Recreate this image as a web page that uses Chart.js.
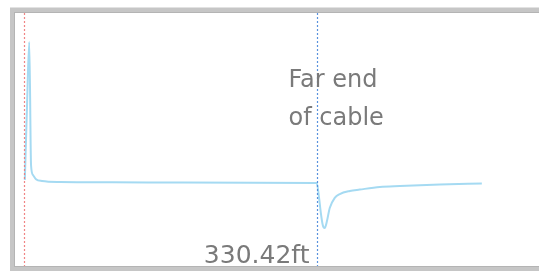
<!DOCTYPE html>
<html>
<head>
<meta charset="utf-8">
<script src="https://cdn.jsdelivr.net/npm/chart.js@4"></script>
<style>
  html, body { margin: 0; padding: 0; background: #fff; }
  #wrap { position: relative; width: 539px; height: 273px; }
</style>
</head>
<body>
<div id="wrap"><canvas id="c" width="539" height="273"></canvas></div>
<script>
// ---- data ----
const distanceFt = [1.5, 4, 6.5, 8.5, 10.7, 14.1, 20.8, 41.1, 100, 180, 260, 330.42, 332.7, 334.9, 337.2, 339.4, 341.7, 345.1, 350.7, 356.4, 367.7, 378.9, 401.6, 424.1, 469.2, 516.5];
const reflection = [0.014, 0.55, 1.0, 0.12, 0.05, 0.02, 0.007, 0.0, -0.002, -0.004, -0.005, -0.007, -0.093, -0.214, -0.307, -0.329, -0.286, -0.186, -0.114, -0.086, -0.064, -0.054, -0.036, -0.029, -0.018, -0.011];
const startFt = 0;
const farEndFt = 330.42;
const farEndLabel = "330.42ft";
const annotationLines = ["Far end", "of cable"];

const points = distanceFt.map((d, i) => ({ x: d, y: reflection[i] }));

const framePlugin = {
  id: 'frame',
  beforeDraw(chart) {
    const ctx = chart.ctx;
    ctx.save();
    ctx.fillStyle = '#ffffff';
    ctx.fillRect(0, 0, chart.width, chart.height);
    ctx.strokeStyle = '#c6c6c6';
    ctx.lineWidth = 5;
    ctx.strokeRect(12.5, 10, 600, 258.5);
    ctx.strokeStyle = '#b4b4b4';
    ctx.lineWidth = 1;
    ctx.strokeRect(14.5, 12.5, 600, 254);
    ctx.restore();
  }
};

const markerPlugin = {
  id: 'markers',
  afterDatasetsDraw(chart) {
    const ctx = chart.ctx;
    const xs = chart.scales.x;
    const area = chart.chartArea;
    const x0 = Math.round(xs.getPixelForValue(startFt)) + 0.5;
    const x1 = Math.round(xs.getPixelForValue(farEndFt)) + 0.5;
    ctx.save();
    ctx.lineWidth = 1.2;
    ctx.setLineDash([2, 2]);
    ctx.strokeStyle = 'rgba(240,120,120,0.9)';
    ctx.beginPath(); ctx.moveTo(x0, area.top); ctx.lineTo(x0, area.bottom); ctx.stroke();
    ctx.strokeStyle = 'rgba(80,140,220,0.95)';
    ctx.beginPath(); ctx.moveTo(x1, area.top); ctx.lineTo(x1, area.bottom); ctx.stroke();
    ctx.setLineDash([]);
    ctx.fillStyle = '#7a7a7a';
    ctx.font = '25px "DejaVu Sans"';
    ctx.textAlign = 'right';
    ctx.textBaseline = 'alphabetic';
    ctx.fillText(farEndLabel, x1 - 8, 263);
    ctx.textAlign = 'left';
    ctx.font = '24px "DejaVu Sans"';
    ctx.fillText(annotationLines[0], x1 - 29, 87);
    ctx.fillText(annotationLines[1], x1 - 29, 125);
    ctx.restore();
  }
};

new Chart(document.getElementById('c'), {
  type: 'line',
  data: {
    datasets: [{
      data: points,
      borderColor: 'rgb(165,218,242)',
      borderWidth: 2,
      pointRadius: 0,
      cubicInterpolationMode: 'monotone',
      fill: false
    }]
  },
  options: {
    responsive: false,
    animation: false,
    devicePixelRatio: 1,
    layout: { padding: { left: 15, top: 13, right: 0, bottom: 7 } },
    plugins: { legend: { display: false }, tooltip: { enabled: false } },
    scales: {
      x: { type: 'linear', min: -9.58, max: 580.9, display: false },
      y: { type: 'linear', min: -0.6, max: 1.207, display: false }
    }
  },
  plugins: [framePlugin, markerPlugin]
});
</script>
</body>
</html>
